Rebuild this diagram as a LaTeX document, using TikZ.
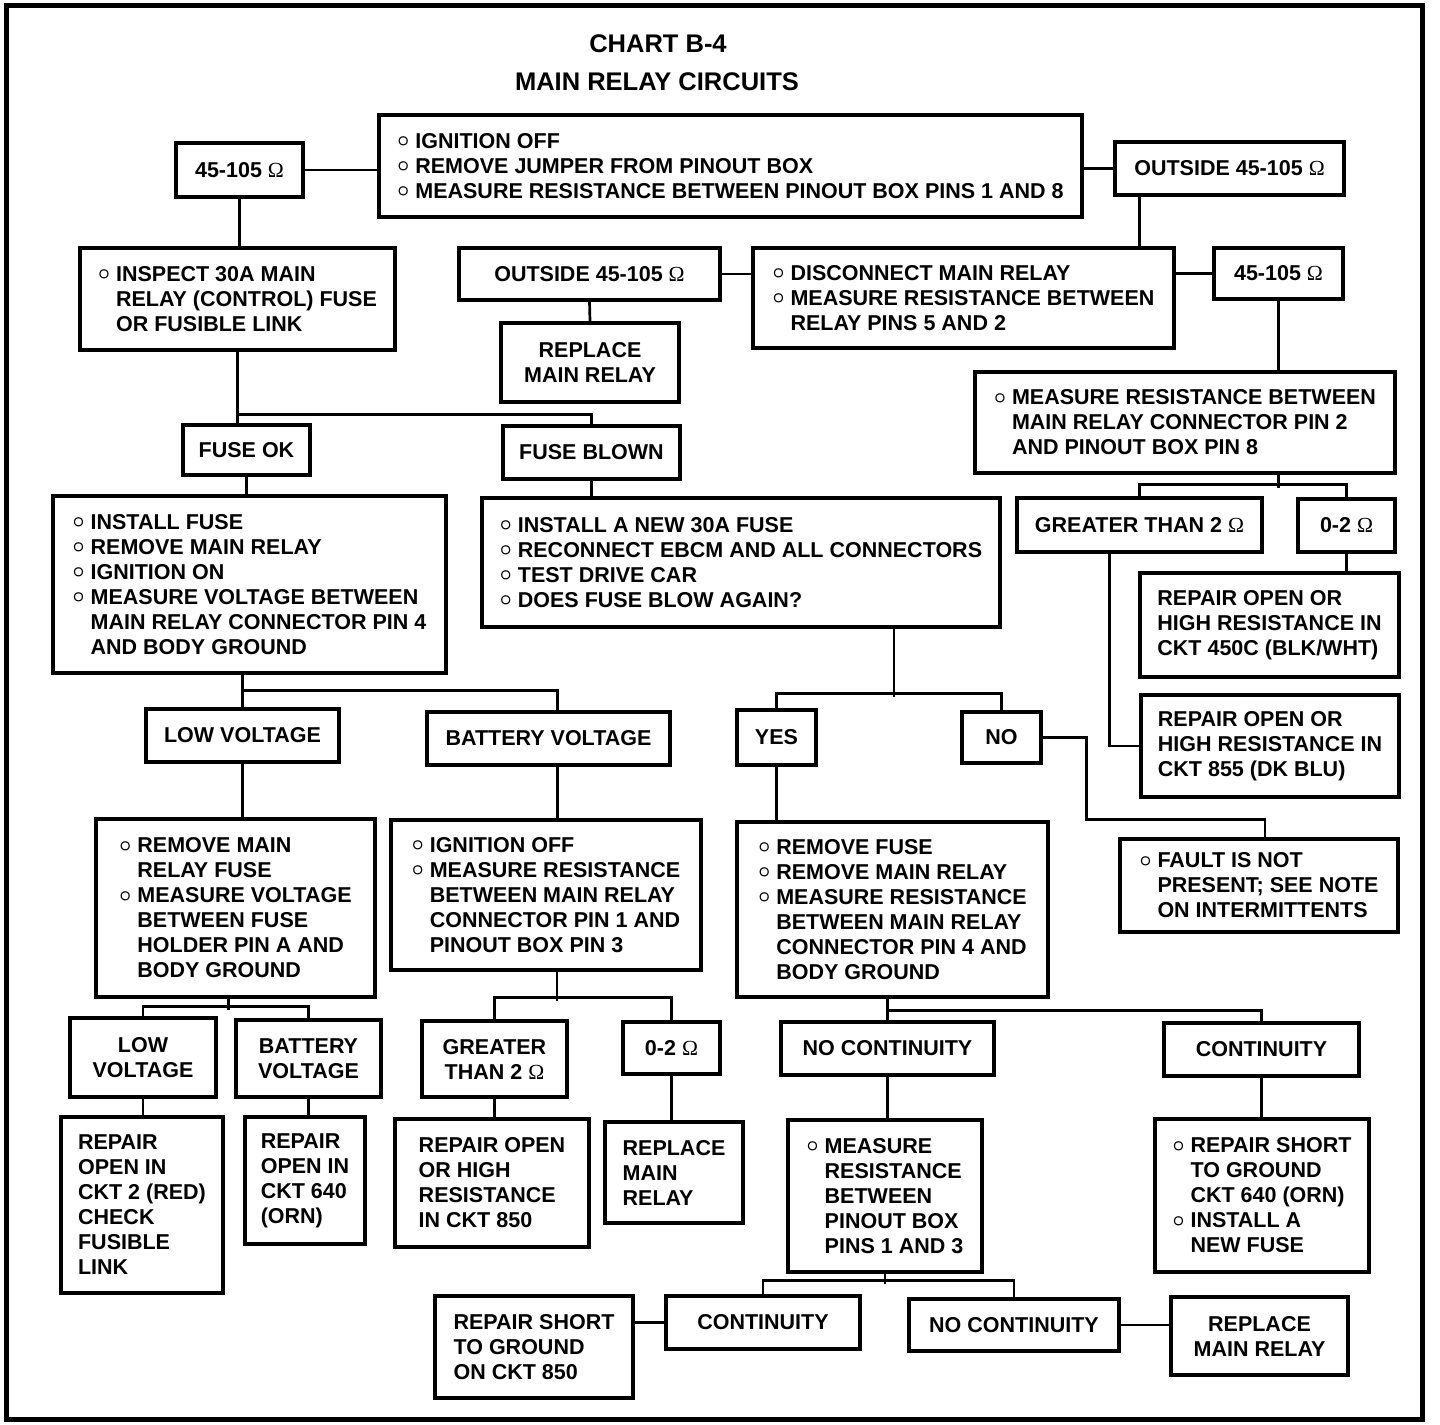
\documentclass[tikz,border=0pt]{standalone}
\usepackage{fontspec}
\usepackage{bm}
\setmainfont{Liberation Sans}
\newfontfamily\ohmfont{Liberation Serif}
\newcommand\ohm{{\ohmfont\mdseries Ω}}
\newcommand\bul{\makebox[18pt][l]{\raisebox{1.5pt}{$\bm{\circ}$}}}
\newcommand\ind{\hspace*{18pt}}
\newcommand\boxfont{\fontsize{21.5}{25}\selectfont\bfseries}
\newcommand\titlefont{\fontsize{25.5}{30}\selectfont\bfseries}

\begin{document}
\begin{tikzpicture}[
  x=1pt, y=-1pt,
  box/.style 2 args={draw, line width=3.4pt, inner sep=0pt, align=left,
    minimum width=#1, minimum height=#2, font=\boxfont},
  cbox/.style 2 args={box={#1}{#2}, align=center},
  link/.style={line width=2.7pt},
]
\useasboundingbox (0,0) rectangle (1440,1424);
\draw [line width=5pt] (6,5) rectangle (1422,1419);

\node [font=\titlefont] (title) at (658,44) {CHART B-4};
\node [font=\titlefont] (subtitle) at (657,82) {MAIN RELAY CIRCUITS};

\node [box={703}{102}] (s1) at (730.5,166) {\bul IGNITION OFF\\ \bul REMOVE JUMPER FROM PINOUT BOX\\ \bul MEASURE RESISTANCE BETWEEN PINOUT BOX PINS 1 AND 8};
\node [cbox={127}{54}] (r1) at (239.5,170) {45-105 \ohm};
\node [cbox={229}{53}] (r2) at (1229.5,168.5) {OUTSIDE 45-105 \ohm};

\node [box={315}{102}] (insp) at (237.5,299) {\bul INSPECT 30A MAIN\\ \ind RELAY (CONTROL) FUSE\\ \ind OR FUSIBLE LINK};
\node [cbox={261}{52}] (out2) at (589.5,274) {OUTSIDE 45-105 \ohm};
\node [box={421}{100}] (disc) at (963.5,298) {\bul DISCONNECT MAIN RELAY\\ \bul MEASURE RESISTANCE BETWEEN\\ \ind RELAY PINS 5 AND 2};
\node [cbox={129}{51}] (r3) at (1278.5,273.5) {45-105 \ohm};
\node [cbox={178}{79}] (rep1) at (590,362.5) {REPLACE\\MAIN RELAY};
\node [box={420}{101}] (meas8) at (1185,422.5) {\bul MEASURE RESISTANCE BETWEEN\\ \ind MAIN RELAY CONNECTOR PIN 2\\ \ind AND PINOUT BOX PIN 8};

\node [cbox={127}{50}] (fok) at (246.5,450) {FUSE OK};
\node [cbox={177}{53}] (fblown) at (591.5,452.5) {FUSE BLOWN};
\node [box={393}{177}] (fuse) at (249.5,584.5) {\bul INSTALL FUSE\\ \bul REMOVE MAIN RELAY\\ \bul IGNITION ON\\ \bul MEASURE VOLTAGE BETWEEN\\ \ind MAIN RELAY CONNECTOR PIN 4\\ \ind AND BODY GROUND};
\node [box={518}{129}] (newfuse) at (741,562.5) {\bul INSTALL A NEW 30A FUSE\\ \bul RECONNECT EBCM AND ALL CONNECTORS\\ \bul TEST DRIVE CAR\\ \bul DOES FUSE BLOW AGAIN?};
\node [cbox={245}{54}] (gt1) at (1139.5,525) {GREATER THAN 2 \ohm};
\node [cbox={97}{53}] (pz1) at (1346.5,525.5) {0-2 \ohm};
\node [box={259}{104}] (ck450) at (1269.5,625) {REPAIR OPEN OR\\HIGH RESISTANCE IN\\CKT 450C (BLK/WHT)};
\node [box={258}{102}] (ck855) at (1270,746) {REPAIR OPEN OR\\HIGH RESISTANCE IN\\CKT 855 (DK BLU)};

\node [cbox={193}{53}] (lowv) at (242.5,735.5) {LOW VOLTAGE};
\node [cbox={243}{53}] (batv) at (548.5,738.5) {BATTERY VOLTAGE};
\node [cbox={79}{55}] (yes) at (776.5,737.5) {YES};
\node [cbox={79}{51}] (no) at (1001.5,737.5) {NO};
\node [box={278}{93}] (fault) at (1259,885.5) {\bul FAULT IS NOT\\ \ind PRESENT; SEE NOTE\\ \ind ON INTERMITTENTS};

\node [box={279}{178}] (rfuse) at (235.5,908) {\bul REMOVE MAIN\\ \ind RELAY FUSE\\ \bul MEASURE VOLTAGE\\ \ind BETWEEN FUSE\\ \ind HOLDER PIN A AND\\ \ind BODY GROUND};
\node [box={310}{150}] (ignoff) at (546,895) {\bul IGNITION OFF\\ \bul MEASURE RESISTANCE\\ \ind BETWEEN MAIN RELAY\\ \ind CONNECTOR PIN 1 AND\\ \ind PINOUT BOX PIN 3};
\node [box={311}{175}] (rmfuse) at (892.5,909.5) {\bul REMOVE FUSE\\ \bul REMOVE MAIN RELAY\\ \bul MEASURE RESISTANCE\\ \ind BETWEEN MAIN RELAY\\ \ind CONNECTOR PIN 4 AND\\ \ind BODY GROUND};

\node [cbox={146}{79}] (lowv2) at (143,1057.5) {LOW\\VOLTAGE};
\node [cbox={145}{77}] (batv2) at (308.5,1058.5) {BATTERY\\VOLTAGE};
\node [cbox={145}{76}] (gt2) at (494.5,1059) {GREATER\\THAN 2 \ohm};
\node [cbox={97}{52}] (pz2) at (671.5,1048) {0-2 \ohm};
\node [cbox={213}{53}] (nocont) at (887.5,1048.5) {NO CONTINUITY};
\node [cbox={195}{53}] (cont) at (1261.5,1049.5) {CONTINUITY};

\node [box={162}{176}] (ck2) at (142,1205) {REPAIR\\OPEN IN\\CKT 2 (RED)\\CHECK\\FUSIBLE\\LINK};
\node [box={120}{127}] (ck640) at (305,1180.5) {REPAIR\\OPEN IN\\CKT 640\\(ORN)};
\node [box={194}{128}] (ck850) at (492,1183) {REPAIR OPEN\\OR HIGH\\RESISTANCE\\IN CKT 850};
\node [box={138}{101}] (rep2) at (674,1172.5) {REPLACE\\MAIN\\RELAY};
\node [box={194}{152}] (pins13) at (885,1196) {\bul MEASURE\\ \ind RESISTANCE\\ \ind BETWEEN\\ \ind PINOUT BOX\\ \ind PINS 1 AND 3};
\node [box={214}{153}] (short640) at (1262,1195.5) {\bul REPAIR SHORT\\ \ind TO GROUND\\ \ind CKT 640 (ORN)\\ \bul INSTALL A\\ \ind NEW FUSE};

\node [box={198}{102}] (short850) at (534,1347) {REPAIR SHORT\\TO GROUND\\ON CKT 850};
\node [cbox={194}{53}] (cont2) at (763,1322.5) {CONTINUITY};
\node [cbox={210}{52}] (nocont2) at (1014,1325) {NO CONTINUITY};
\node [cbox={177}{78}] (rep3) at (1259.5,1336) {REPLACE\\MAIN RELAY};

\draw [link] (r1.east) -- (r1.east -| s1.west);
\draw [link] (r2.west) -- (r2.west -| s1.east);
\draw [link] (r1.south) -- (r1.south |- insp.north);
\draw [link] (r2.south) ++(-90,0) -- ++(0,53);
\draw [link] (out2.east) -- (out2.east -| disc.west);
\draw [link] (r3.west) -- (r3.west -| disc.east);
\draw [link] (out2.south) -- (rep1.north);
\draw [link] (r3.south) -- (r3.south |- meas8.north);

\draw [link] (insp.south) -- (insp.south |- fok.north);
\draw [link] (insp.south) ++(0,63) -| (fblown.north);
\draw [link] (fok.south) -- (fok.south |- fuse.north);
\draw [link] (fblown.south) -- (fblown.south |- newfuse.north);

\draw [link] (r3.south |- meas8.south) -- ++(0,13);
\draw [link] (gt1.north) -- ++(0,-12) -| (pz1.north);
\draw [link] (gt1.south) ++(-30,0) |- (ck855.west);
\draw [link] (pz1.south) -- (pz1.south |- ck450.north);

\draw [link] (lowv.north) -- (lowv.north |- fuse.south);
\draw [link] (lowv.north) ++(0,-17) -| ([xshift=9pt]batv.north);
\draw [link] (lowv.south) -- (lowv.south |- rfuse.north);
\draw [link] (batv.south) ++(9,0) -- ++(0,55);

\draw [link] (newfuse.south) ++(153,0) -- ++(0,68);
\draw [link] (yes.north) -- ++(0,-15) -| (no.north);
\draw [link] (no.east) -- ++(44,0) -- ++(0,82) -| ([xshift=6pt]fault.north);
\draw [link] (yes.south) -- (yes.south |- rmfuse.north);

\draw [link] (rfuse.south) ++(-7,0) -- ++(0,11);
\draw [link] (lowv2.north) -- ++(0,-10) -| (batv2.north);
\draw [link] (lowv2.south) -- (lowv2.south |- ck2.north);
\draw [link] (batv2.south) -- (batv2.south |- ck640.north);

\draw [link] (ignoff.south) ++(11,0) -- ++(0,29);
\draw [link] (gt2.north) -- ++(0,-22) -| (pz2.north);
\draw [link] (gt2.south) -- (gt2.south |- ck850.north);
\draw [link] (pz2.south) -- (pz2.south |- rep2.north);

\draw [link] (nocont.north) -- (nocont.north |- rmfuse.south);
\draw [link] (nocont.north) ++(0,-10) -| (cont.north);
\draw [link] (nocont.south) -- (nocont.south |- pins13.north);
\draw [link] (cont.south) -- (cont.south |- short640.north);

\draw [link] (pins13.south) -- ++(0,10);
\draw [link] (cont2.north) -- ++(0,-14) -| (nocont2.north);
\draw [link] (cont2.west) -- (cont2.west -| short850.east);
\draw [link] (nocont2.east) -- (nocont2.east -| rep3.west);

\end{tikzpicture}
\end{document}
